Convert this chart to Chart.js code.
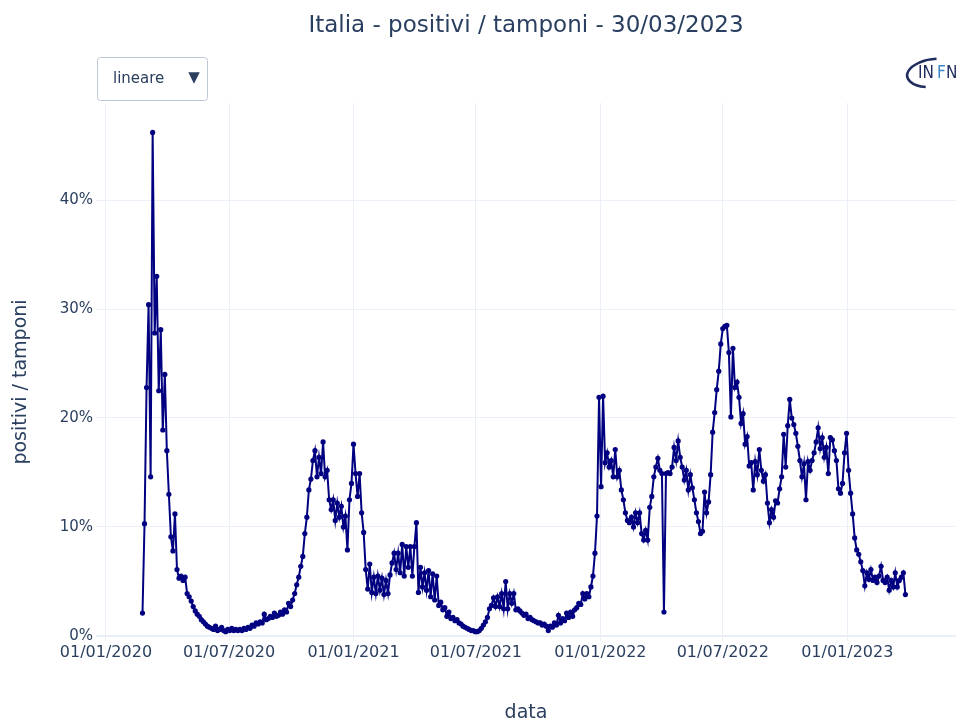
<!DOCTYPE html>
<html>
<head>
<meta charset="utf-8">
<script src="https://cdn.jsdelivr.net/npm/chart.js@4"></script>
<style>
  body { margin: 0; background: #fff; }
  #wrap { position: relative; width: 960px; height: 728px; }
</style>
</head>
<body>
<div id="wrap"><canvas id="chart" width="960" height="728"></canvas></div>
<script>
// serie: rapporto positivi / tamponi (%), un punto ogni 3 giorni dal 24/02/2020
const startDate = '2020-02-24';
const stepDays = 3;
const positivity = [
  2.1, 10.3, 22.8, 30.4, 14.6, 46.2, 27.8, 33.0, 22.5, 28.1,
  18.9, 24.0, 17.0, 13.0, 9.1, 7.8, 11.2, 6.1, 5.3, 5.5,
  5.1, 5.4, 3.9, 3.6, 3.2, 2.7, 2.3, 2.0, 1.8, 1.5,
  1.3, 1.1, 0.9, 0.8, 0.7, 0.6, 0.9, 0.5, 0.6, 0.8,
  0.5, 0.4, 0.6, 0.5, 0.7, 0.5, 0.6, 0.5, 0.6, 0.5,
  0.7, 0.6, 0.8, 0.7, 1.0, 0.9, 1.2, 1.1, 1.3, 1.2,
  2.0, 1.5, 1.6, 1.8, 1.7, 2.1, 1.8, 1.9, 2.2, 2.0,
  2.4, 2.2, 3.0, 2.7, 3.3, 3.9, 4.7, 5.4, 6.4, 7.3,
  9.4, 10.9, 13.4, 14.4, 16.1, 17.0, 14.6, 16.4, 14.9, 17.8,
  14.6, 15.2, 12.5, 11.6, 12.5, 10.6, 12.2, 10.9, 11.9, 10.0,
  11.0, 7.9, 12.5, 14.0, 17.6, 14.9, 12.8, 14.9, 11.3, 9.5,
  6.1, 4.3, 6.6, 4.0, 5.4, 3.9, 5.5, 4.2, 5.3, 3.8,
  5.1, 3.9, 5.6, 6.7, 7.6, 6.1, 7.6, 5.8, 8.4, 5.5,
  8.2, 6.3, 8.2, 5.5, 8.2, 10.4, 4.0, 6.3, 4.5, 5.8,
  4.2, 6.0, 3.6, 5.7, 3.3, 5.5, 2.8, 3.1, 2.4, 2.6,
  1.8, 2.2, 1.6, 1.7, 1.4, 1.5, 1.2, 1.1, 0.9, 0.8,
  0.7, 0.6, 0.5, 0.5, 0.4, 0.4, 0.5, 0.7, 1.0, 1.3,
  1.7, 2.5, 2.8, 3.5, 2.7, 3.6, 2.7, 3.9, 2.5, 5.0,
  2.5, 3.9, 3.0, 3.9, 2.4, 2.5, 2.3, 2.1, 1.9, 2.0,
  1.6, 1.7, 1.5, 1.4, 1.3, 1.2, 1.2, 1.0, 1.1, 0.9,
  0.5, 0.9, 0.8, 1.2, 1.0, 1.9, 1.2, 1.6, 1.4, 2.1,
  1.7, 2.2, 1.8, 2.4, 2.6, 3.0, 2.9, 3.9, 3.4, 3.9,
  3.6, 4.5, 5.5, 7.6, 11.0, 21.9, 13.7, 22.0, 15.9, 16.8,
  15.5, 16.1, 14.6, 17.1, 14.6, 15.2, 13.4, 12.5, 11.3, 10.6,
  10.4, 10.9, 10.0, 11.3, 10.4, 11.3, 9.4, 8.8, 9.7, 8.8,
  11.8, 12.8, 14.6, 15.5, 16.3, 15.2, 14.9, 2.2, 14.9, 15.0,
  14.9, 15.5, 17.3, 16.1, 17.9, 16.4, 15.5, 14.3, 15.2, 13.4,
  14.8, 13.6, 12.5, 11.3, 10.5, 9.4, 9.6, 13.2, 11.3, 12.3,
  14.8, 18.7, 20.5, 22.6, 24.3, 26.8, 28.2, 28.4, 28.5, 26.0,
  20.1, 26.4, 22.8, 23.3, 21.9, 19.5, 20.4, 17.6, 18.3, 15.6,
  15.9, 13.4, 16.0, 14.8, 17.1, 15.2, 14.2, 14.8, 12.2, 10.4,
  11.6, 10.9, 12.4, 12.2, 13.5, 14.6, 18.5, 15.5, 19.3, 21.7,
  20.0, 19.4, 18.6, 17.4, 16.1, 14.6, 15.8, 12.5, 16.0, 15.2,
  16.1, 16.8, 17.8, 19.1, 17.2, 18.2, 16.4, 17.3, 14.9, 18.2,
  18.0, 17.0, 16.1, 13.5, 13.1, 14.0, 16.8, 18.6, 15.2, 13.1,
  11.2, 9.0, 7.9, 7.5, 6.8, 6.0, 4.6, 5.8, 5.2, 6.1,
  5.1, 5.4, 4.9, 5.5, 6.4, 5.1, 4.9, 5.4, 4.2, 5.1,
  4.5, 5.8, 4.5, 5.1, 5.4, 5.8, 3.8
];
const xTickLabels = ['01/01/2020', '01/07/2020', '01/01/2021', '01/07/2021', '01/01/2022', '01/07/2022', '01/01/2023'];
const yTickValues = [0, 10, 20, 30, 40];

const textColor = '#2a3f5f';
const gridColor = '#ebf0f8';
const lineColor = '#000080';

// giorni dal 01/01/2020
const DAY = 86400000;
const origin = Date.UTC(2020, 0, 1);
const dayFromIso = s => {
    const [y, m, d] = s.split('-').map(Number);
    return (Date.UTC(y, m - 1, d) - origin) / DAY;
};
const dayFromLabel = s => {
    const [d, m, y] = s.split('/').map(Number);
    return (Date.UTC(y, m - 1, d) - origin) / DAY;
};

const startDay = dayFromIso(startDate);
const points = positivity.map((v, i) => ({ x: startDay + i * stepDays, y: v }));

// menu "lineare", titolo asse y e logo INFN
const decorations = {
    id: 'decorations',
    afterDraw(chart) {
        const ctx = chart.ctx;
        ctx.save();
        // menu a tendina
        ctx.beginPath();
        ctx.roundRect(97.5, 57.5, 110, 43, 3);
        ctx.fillStyle = '#fff';
        ctx.fill();
        ctx.strokeStyle = '#bec8d9';
        ctx.lineWidth = 1;
        ctx.stroke();
        ctx.fillStyle = textColor;
        ctx.font = '15px "DejaVu Sans"';
        ctx.textBaseline = 'middle';
        ctx.textAlign = 'left';
        ctx.fillText('lineare', 113, 79);
        ctx.font = '15px "DejaVu Sans"';
        ctx.textAlign = 'center';
        ctx.fillText('▼', 194, 78);

        // titolo asse y
        ctx.save();
        ctx.translate(21, 382);
        ctx.rotate(-Math.PI / 2);
        ctx.font = '19px "DejaVu Sans"';
        ctx.fillText('positivi / tamponi', 0, 0);
        ctx.restore();

        // logo
        ctx.beginPath();
        ctx.ellipse(934, 73, 27, 14, -0.12, Math.PI * 0.62, Math.PI * 1.55);
        ctx.strokeStyle = '#1f2d5e';
        ctx.lineWidth = 2.5;
        ctx.stroke();
        ctx.font = '17px "DejaVu Sans Condensed", "DejaVu Sans"';
        ctx.textAlign = 'left';
        ctx.fillStyle = '#1f2d5e';
        ctx.fillText('IN', 918, 74);
        ctx.fillStyle = '#3f86c6';
        ctx.fillText('F', 937, 74);
        ctx.fillStyle = '#1f2d5e';
        ctx.fillText('N', 946, 74);
        ctx.restore();
    }
};

Chart.defaults.font.family = '"DejaVu Sans", sans-serif';
Chart.defaults.color = textColor;

new Chart(document.getElementById('chart'), {
    type: 'line',
    data: {
        datasets: [{
            label: 'positivi / tamponi',
            data: points,
            borderColor: lineColor,
            backgroundColor: lineColor,
            borderWidth: 2,
            pointRadius: 2.6,
            pointBorderWidth: 0,
            pointBackgroundColor: lineColor,
            tension: 0
        }]
    },
    options: {
        responsive: false,
        animation: false,
        devicePixelRatio: 1,
        layout: { padding: { right: 2 } },
        plugins: {
            legend: { display: false },
            tooltip: { enabled: false },
            title: {
                display: true,
                fullSize: false,
                text: 'Italia - positivi / tamponi - 30/03/2023',
                color: textColor,
                font: { size: 23, weight: 'normal' },
                padding: { top: 12, bottom: 63.4 }
            }
        },
        scales: {
            x: {
                type: 'linear',
                min: -14.75,
                max: 1256.8,
                afterBuildTicks: s => { s.ticks = xTickLabels.map(l => ({ value: dayFromLabel(l) })); },
                afterFit: s => { s.height = 87; },
                grid: { color: gridColor, drawTicks: false },
                border: { display: false },
                ticks: {
                    autoSkip: false,
                    maxRotation: 0,
                    padding: 2,
                    font: { size: 16 },
                    callback: (v, i) => xTickLabels[i]
                },
                title: {
                    display: true,
                    text: 'data',
                    color: textColor,
                    font: { size: 19 },
                    padding: { top: 0, bottom: 4 }
                }
            },
            y: {
                min: -0.46,
                max: 48.9,
                afterBuildTicks: s => { s.ticks = yTickValues.map(v => ({ value: v })); },
                afterFit: s => { s.width = 96; },
                grid: {
                    color: gridColor,
                    drawTicks: false,
                    lineWidth: c => (c.tick && c.tick.value === 0 ? 2 : 1)
                },
                border: { display: false },
                ticks: {
                    padding: 3,
                    font: { size: 15 },
                    callback: v => v + '%'
                }
            }
        }
    },
    plugins: [decorations]
});
</script>
</body>
</html>
